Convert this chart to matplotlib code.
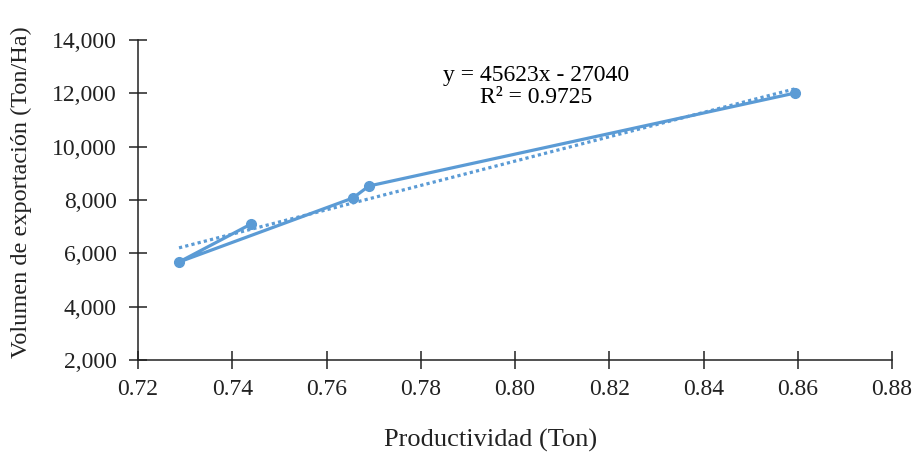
import matplotlib
matplotlib.use("Agg")
import matplotlib.pyplot as plt
from matplotlib.ticker import FuncFormatter

# data in plotting order (as connected in the original)
productividad = [0.744, 0.7287, 0.7656, 0.769, 0.8594]
volumen = [7100, 5675, 8075, 8525, 12010]

# trend line as printed on chart
slope = 45623
intercept = -27040
r2 = 0.9725

blue = "#5B9BD5"

plt.rcParams["font.family"] = ["Liberation Serif", "DejaVu Serif"]

fig = plt.figure(figsize=(9.16, 4.53), dpi=100)
ax = fig.add_axes([0.1507, 0.2053, 0.8231, 0.7064])

ax.plot(productividad, volumen, color=blue, lw=2.3, marker="o", ms=7,
        solid_joinstyle="round")

x0, x1 = min(productividad), max(productividad)
ax.plot([x0, x1], [slope * x0 + intercept, slope * x1 + intercept],
        color=blue, lw=2.3, ls=(0, (1, 1)))

ax.text(0.8045, 12250, f"y = {slope}x - {-intercept}\nR\u00b2 = {r2}",
        ha="center", va="center", fontsize=17, linespacing=1.1)

ax.set_xlim(0.72, 0.88)
ax.set_ylim(2000, 14000)
ax.set_xticks([0.72 + 0.02 * i for i in range(9)])
ax.set_yticks(range(2000, 14001, 2000))
ax.xaxis.set_major_formatter(FuncFormatter(lambda v, p: f"{v:.2f}"))
ax.yaxis.set_major_formatter(FuncFormatter(lambda v, p: f"{int(v):,}"))

for s in ["top", "right"]:
    ax.spines[s].set_visible(False)
for s in ["left", "bottom"]:
    ax.spines[s].set_linewidth(1.1)
    ax.spines[s].set_color("#222222")
ax.tick_params(direction="inout", length=13, width=1.1, color="#222222",
               labelsize=17, labelcolor="#222222")
ax.tick_params(axis="x", pad=7)
ax.tick_params(axis="y", pad=9)

ax.set_xlabel("Productividad (Ton)", fontsize=19, color="#222222")
ax.set_ylabel("Volumen de exportación (Ton/Ha)", fontsize=17.5, color="#222222")
ax.xaxis.set_label_coords(0.467, -0.215)
ax.yaxis.set_label_coords(-0.14, 0.525)

fig.savefig("out.png", dpi=100)
